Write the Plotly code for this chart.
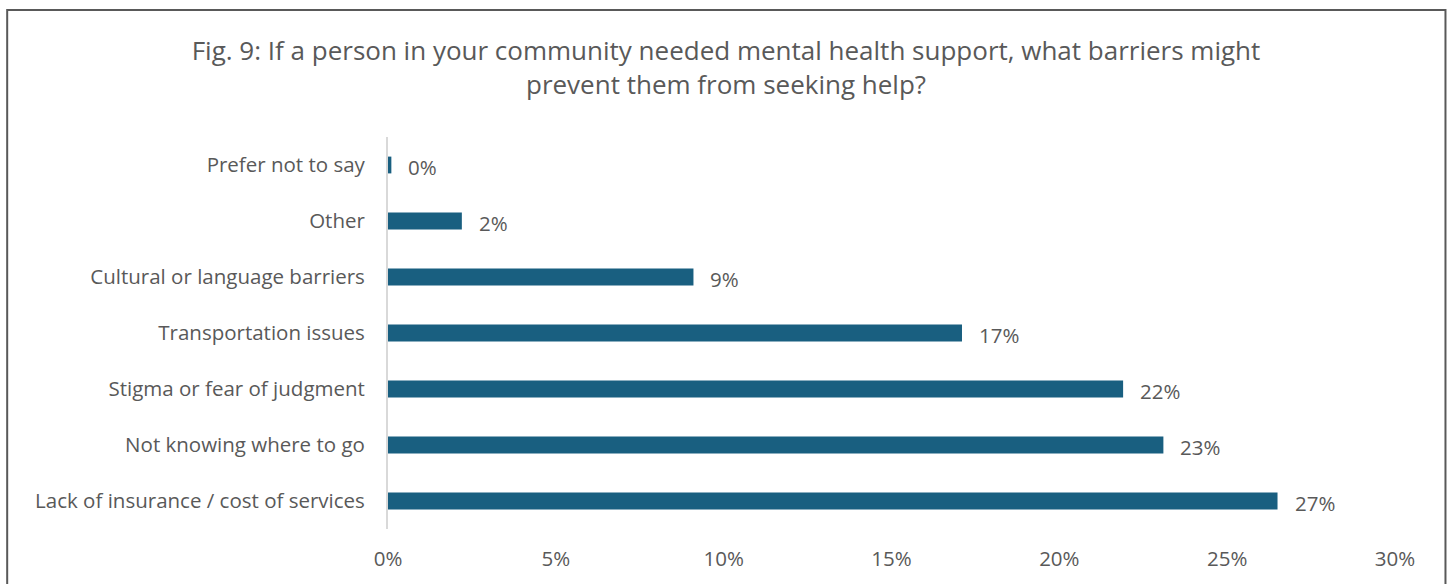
import plotly.graph_objects as go

categories = [
    "Lack of insurance / cost of services",
    "Not knowing where to go",
    "Stigma or fear of judgment",
    "Transportation issues",
    "Cultural or language barriers",
    "Other",
    "Prefer not to say",
]
values = [0.265, 0.231, 0.219, 0.171, 0.091, 0.022, 0.001]
labels = ["27%", "23%", "22%", "17%", "9%", "2%", "0%"]
x_ticks = [0, 0.05, 0.10, 0.15, 0.20, 0.25, 0.30]
x_tick_text = ["0%", "5%", "10%", "15%", "20%", "25%", "30%"]

title_text = ("Fig. 9: If a person in your community needed mental health support, what barriers might"
              "<br>prevent them from seeking help?")

FONT = "Open Sans"
GRAY = "#595959"
BAR = "#195f80"
FS = 20.5

W, H = 1452, 584
L, R, T, B = 388, 56.5, 137, 55

fig = go.Figure()
fig.add_trace(go.Bar(
    y=categories, x=values, orientation="h",
    marker=dict(color=BAR, line=dict(width=0)),
    width=0.3, hoverinfo="skip",
))

for c, v, t in zip(categories, values, labels):
    fig.add_annotation(x=v, y=c, text=t, showarrow=False, xanchor="left",
                       xshift=15, yshift=-2, font=dict(family=FONT, size=FS, color=GRAY))

pw = W - L - R
ph = H - T - B
fig.add_shape(type="rect", xref="paper", yref="paper",
              x0=(7 - L) / pw, x1=(1446 - L) / pw,
              y0=-(B + 20) / ph, y1=1 + (T - 10) / ph,
              line=dict(color="#595959", width=2), fillcolor="rgba(0,0,0,0)", layer="below")

fig.update_layout(
    width=W, height=H,
    margin=dict(l=L, r=R, t=T, b=B, pad=0),
    paper_bgcolor="white", plot_bgcolor="white",
    showlegend=False,
    title=dict(text=title_text, x=0.5, xanchor="center", xref="container",
               y=1 - 60 / H, yanchor="middle",
               font=dict(family=FONT, size=26, color=GRAY)),
    xaxis=dict(range=[0, 0.30], tickvals=x_ticks, ticktext=x_tick_text,
               showgrid=False, zeroline=False, showline=False,
               ticks="outside", ticklen=11, tickcolor="rgba(0,0,0,0)",
               tickfont=dict(family=FONT, size=FS, color=GRAY)),
    yaxis=dict(categoryorder="array", categoryarray=categories,
               range=[-0.5, 6.5],
               showgrid=False, zeroline=False,
               showline=True, linecolor="#d9d9d9", linewidth=2,
               ticks="outside", ticklen=17, tickcolor="rgba(0,0,0,0)",
               tickfont=dict(family=FONT, size=FS, color=GRAY)),
)

fig.write_html("out.html")
